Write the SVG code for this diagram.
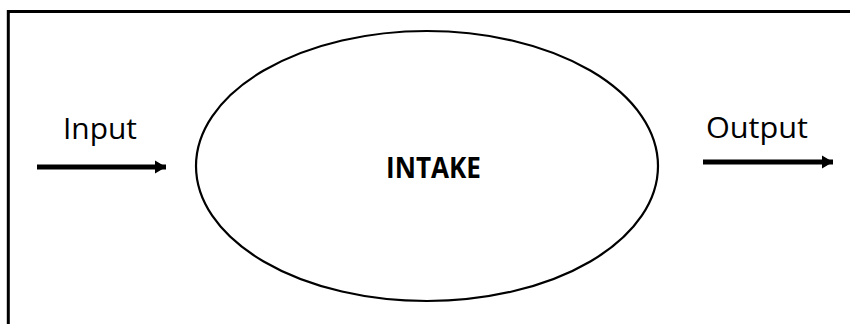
<svg xmlns="http://www.w3.org/2000/svg" width="850" height="324" viewBox="0 0 850 324">
  <defs>
    <style>
      .label { font-family: "Open Sans", "Noto Sans", sans-serif; font-size: 29px; fill: #000; }
      .bold { font-weight: bold; }
      .flow { stroke: #000; stroke-width: 5; fill: none; }
    </style>
    <marker id="arrow" markerUnits="userSpaceOnUse" markerWidth="12" markerHeight="14" refX="11" refY="7" orient="auto">
      <path d="M0,0.5 L11,7 L0,13.5 Z" fill="#000"/>
    </marker>
  </defs>
  <rect x="0" y="0" width="850" height="324" fill="#fff"/>
  <rect id="frame" x="8.3" y="11.5" width="900" height="400" fill="none" stroke="#000" stroke-width="3"/>
  <g id="intake">
    <ellipse cx="427" cy="166" rx="231" ry="135" fill="none" stroke="#000" stroke-width="2.2"/>
    <text class="label bold" x="433.5" y="178" text-anchor="middle" textLength="95" lengthAdjust="spacingAndGlyphs">INTAKE</text>
  </g>
  <g id="input-label">
    <text class="label" x="63" y="139" textLength="74" lengthAdjust="spacingAndGlyphs">Input</text>
  </g>
  <g id="output-label">
    <text class="label" x="706" y="138" textLength="102" lengthAdjust="spacingAndGlyphs">Output</text>
  </g>
  <g id="connectors">
    <line class="flow" x1="37" y1="167" x2="166" y2="167" marker-end="url(#arrow)"/>
    <line class="flow" x1="703" y1="162" x2="833" y2="162" marker-end="url(#arrow)"/>
  </g>
</svg>
